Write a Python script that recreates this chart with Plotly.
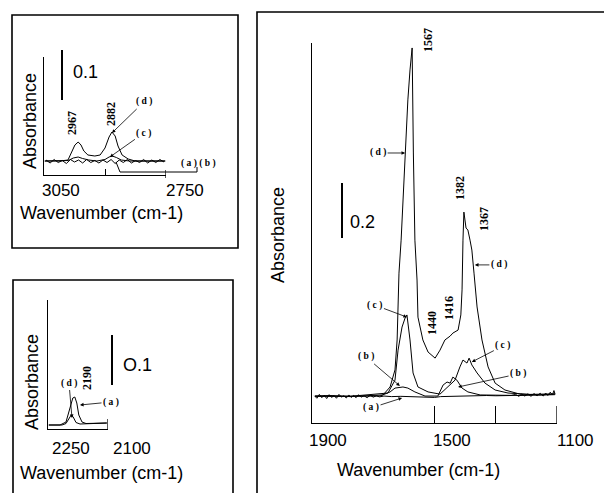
import plotly.graph_objects as go

# page body keeps a default 8px margin, so the figure is sized to fit inside the window
OFF = 8
W, H = 612 - OFF, 493 - OFF

# ---------------- data ----------------
# C-H stretching region (top-left panel), wavenumber cm-1 / absorbance
ch_wn_d = [3048, 3011, 2991, 2981, 2974, 2966, 2959, 2952, 2942, 2925, 2912, 2900, 2890,
           2883, 2875, 2868, 2858, 2843, 2826, 2790, 2752]
ch_abs_d = [0.028, 0.028, 0.030, 0.046, 0.060, 0.066, 0.060, 0.048, 0.040, 0.038, 0.040,
            0.054, 0.076, 0.086, 0.078, 0.058, 0.040, 0.032, 0.028, 0.028, 0.028]
ch_wn_c = [3048, 2990, 2978, 2966, 2955, 2940, 2920, 2900, 2890, 2882, 2872, 2860, 2840, 2752]
ch_abs_c = [0.028, 0.029, 0.034, 0.036, 0.033, 0.030, 0.028, 0.031, 0.036, 0.038, 0.035,
            0.030, 0.028, 0.028]
ch_wn_ab = [3045, 3035, 3025, 3015, 3005, 2995, 2985, 2975, 2965, 2955, 2945, 2935, 2925,
            2915, 2905, 2895, 2885, 2875, 2865, 2855, 2845, 2835, 2825, 2815, 2805, 2795,
            2785, 2775, 2765, 2755]
ch_abs_ab = [0.030, 0.024, 0.031, 0.025, 0.029, 0.023, 0.031, 0.026, 0.030, 0.024, 0.031,
             0.025, 0.029, 0.024, 0.030, 0.025, 0.031, 0.023, 0.030, 0.025, 0.031, 0.024,
             0.029, 0.025, 0.031, 0.024, 0.030, 0.025, 0.031, 0.026]

# C-N region (bottom-left panel)
cn_wn_a = [2248, 2220, 2205, 2195, 2188, 2183, 2178, 2173, 2165, 2155, 2130, 2103]
cn_abs_a = [0.008, 0.008, 0.014, 0.042, 0.062, 0.064, 0.052, 0.028, 0.014, 0.011, 0.011, 0.012]
cn_wn_d = [2248, 2215, 2205, 2198, 2192, 2187, 2180, 2170, 2140, 2103]
cn_abs_d = [0.008, 0.008, 0.011, 0.020, 0.028, 0.024, 0.013, 0.010, 0.011, 0.012]

# 1900-1100 region (right panel)
fp_wn_d = [1890, 1841, 1776, 1711, 1668, 1645, 1629, 1622, 1616, 1609, 1596, 1587, 1580,
           1573, 1569, 1564, 1557, 1554, 1538, 1521, 1498, 1482, 1466, 1449, 1440, 1423,
           1414, 1410, 1407, 1404, 1397, 1391, 1384, 1378, 1371, 1361, 1345, 1325, 1302,
           1270, 1221, 1155, 1107]
fp_abs_d = [0.098, 0.100, 0.096, 0.099, 0.102, 0.131, 0.193, 0.302, 0.545, 0.665, 0.982,
            1.175, 1.284, 1.364, 0.982, 0.665, 0.520, 0.385, 0.302, 0.258, 0.236, 0.265,
            0.302, 0.316, 0.327, 0.338, 0.393, 0.484, 0.665, 0.767, 0.709, 0.702, 0.665,
            0.629, 0.545, 0.422, 0.302, 0.204, 0.145, 0.120, 0.105, 0.102, 0.105]
fp_wn_c = [1890, 1776, 1652, 1629, 1619, 1606, 1596, 1590, 1580, 1570, 1554, 1521, 1482,
           1456, 1433, 1417, 1407, 1394, 1387, 1378, 1361, 1335, 1302, 1260, 1188, 1107]
fp_abs_c = [0.098, 0.097, 0.109, 0.156, 0.265, 0.349, 0.382, 0.393, 0.302, 0.182, 0.131,
            0.113, 0.105, 0.131, 0.156, 0.204, 0.229, 0.218, 0.236, 0.211, 0.182, 0.145,
            0.120, 0.109, 0.104, 0.106]
fp_wn_b = [1890, 1678, 1645, 1629, 1603, 1587, 1564, 1531, 1489, 1472, 1459, 1449, 1440,
           1427, 1410, 1391, 1351, 1221, 1107]
fp_abs_b = [0.097, 0.098, 0.113, 0.127, 0.131, 0.127, 0.113, 0.098, 0.098, 0.138, 0.149,
            0.145, 0.167, 0.156, 0.127, 0.113, 0.102, 0.100, 0.103]
fp_wn_a = [1892, 1884, 1876, 1868, 1860, 1852, 1844, 1836, 1828, 1820, 1812, 1804, 1796,
           1788, 1780, 1772, 1764, 1756, 1748, 1740, 1730, 1720, 1710, 1700, 1690, 1680,
           1665, 1640, 1610, 1580, 1550, 1520, 1500, 1480, 1450, 1420, 1390, 1360, 1330,
           1300, 1270, 1250, 1235, 1225, 1215, 1205, 1195, 1185, 1175, 1165, 1155, 1145,
           1137, 1130, 1122, 1115, 1110, 1106]
fp_abs_a = [0.099, 0.090, 0.104, 0.092, 0.101, 0.089, 0.103, 0.093, 0.100, 0.090, 0.104,
            0.094, 0.099, 0.091, 0.102, 0.093, 0.100, 0.092, 0.103, 0.094, 0.099, 0.092,
            0.101, 0.094, 0.099, 0.095, 0.098, 0.096, 0.097, 0.096, 0.097, 0.094, 0.093,
            0.096, 0.097, 0.098, 0.098, 0.099, 0.100, 0.099, 0.101, 0.100, 0.104, 0.097,
            0.105, 0.098, 0.106, 0.097, 0.107, 0.099, 0.108, 0.098, 0.109, 0.100, 0.112,
            0.102, 0.118, 0.104]

SANS = "Liberation Sans, Arial, sans-serif"
SERIF = "Liberation Serif, Times New Roman, serif"


def px(x):
    return (x - OFF) / W


def py(y):
    return 1 - (y - OFF) / H


fig = go.Figure()
line = dict(color="black", width=1)
for xs, ys, ax in [(ch_wn_ab, ch_abs_ab, 1), (ch_wn_c, ch_abs_c, 1), (ch_wn_d, ch_abs_d, 1),
                   (cn_wn_d, cn_abs_d, 2), (cn_wn_a, cn_abs_a, 2),
                   (fp_wn_a, fp_abs_a, 3), (fp_wn_b, fp_abs_b, 3), (fp_wn_c, fp_abs_c, 3),
                   (fp_wn_d, fp_abs_d, 3)]:
    suf = "" if ax == 1 else str(ax)
    fig.add_trace(go.Scatter(x=xs, y=ys, mode="lines", line=line, xaxis="x" + suf,
                             yaxis="y" + suf, showlegend=False, hoverinfo="skip"))


def xax(dom, rng, tv, tl, anchor):
    return dict(domain=[px(dom[0]), px(dom[1])], range=rng, anchor=anchor, showline=True,
                linecolor="black", linewidth=1.3, ticks="inside", ticklen=tl, tickwidth=1.3,
                tickcolor="black", tickvals=tv, showticklabels=False, showgrid=False,
                zeroline=False, fixedrange=True)


def yax(dom, rng, anchor):
    return dict(domain=[py(dom[0]), py(dom[1])], range=rng, anchor=anchor, showline=True,
                linecolor="black", linewidth=1.3, ticks="", showticklabels=False,
                showgrid=False, zeroline=False, fixedrange=True)


fig.update_layout(
    width=W, height=H, margin=dict(l=0, r=0, t=0, b=0),
    paper_bgcolor="white", plot_bgcolor="rgba(0,0,0,0)",
    xaxis=xax((44, 166), [3050, 2750], [2900], 6, "y"),
    yaxis=yax((175, 57), [0, 0.236], "x"),
    xaxis2=xax((48, 108), [2250, 2100], [], 10, "y2"),
    yaxis2=yax((429, 300), [0, 0.258], "x2"),
    xaxis3=xax((312, 557), [1900, 1100], [1500, 1300], 17, "y3"),
    yaxis3=yax((423, 43), [0, 1.382], "x3"),
)

shapes = []
# panel frames
for (x0, y0, x1, y1) in [(12, 15, 238, 248), (13, 280, 233, 500), (257, 12, 620, 500)]:
    shapes.append(dict(type="rect", xref="paper", yref="paper", x0=px(x0), x1=px(x1),
                       y0=py(y0), y1=py(y1), line=dict(color="black", width=1.6)))
# end-of-axis ticks (at the range limits, which plotly skips)
for (xr, v, y0, y1) in [("x", 2750, 178, 170), ("x2", 2100, 429, 419), ("x3", 1100, 423, 406)]:
    shapes.append(dict(type="line", xref=xr, yref="paper", x0=v, x1=v, y0=py(y0), y1=py(y1),
                       line=dict(color="black", width=1.3)))
# scale bars
for (x, y0, y1) in [(62, 50, 100), (112, 335, 385), (342, 183, 238)]:
    shapes.append(dict(type="line", xref="paper", yref="paper", x0=px(x), x1=px(x),
                       y0=py(y0), y1=py(y1), line=dict(color="black", width=2)))
# leader for (a)(b) in top-left panel
shapes.append(dict(type="path", xref="paper", yref="paper",
                   path=f"M {px(116)},{py(162)} L {px(120)},{py(172)} L {px(197)},{py(172)} L {px(197)},{py(167)}",
                   line=dict(color="black", width=1)))
fig.update_layout(shapes=shapes)

ann = []


def txt(x, y, s, size, font=SANS, angle=0, bold=False):
    ann.append(dict(xref="paper", yref="paper", x=px(x), y=py(y), text=s, showarrow=False,
                    xanchor="center", yanchor="middle", textangle=angle,
                    font=dict(family=font, size=size, color="black",
                              weight="bold" if bold else "normal")))


# axis titles and tick labels
for (x, y) in [(30, 121), (32, 382), (278, 235)]:
    txt(x, y, "Absorbance", 18, angle=-90)
for (x, y) in [(101, 213), (101, 473), (418, 470)]:
    txt(x, y, "Wavenumber (cm-1)", 18)
for (x, y, s) in [(61, 190, "3050"), (185, 190, "2750"), (71, 448, "2250"), (132, 448, "2100"),
                  (328, 440, "1900"), (452, 440, "1500"), (575, 440, "1100")]:
    txt(x, y, s, 17)
# scale labels
txt(85, 72, "0.1", 18)
txt(137, 365, "O.1", 18)
txt(362, 222, "0.2", 18)
# peak labels
for (x, y, s) in [(72, 123, "2967"), (111, 114, "2882"), (87, 378, "2190"),
                  (428, 40, "1567"), (460, 188, "1382"), (484, 219, "1367"),
                  (432, 323, "1440"), (449, 308, "1416")]:
    txt(x, y, s, 12, font=SERIF, angle=-90, bold=True)
txt(198, 163, "( a ) ( b )", 9.5, font=SERIF, bold=True)


def arr(xr, yr, x, y, axp, ayp, s):
    ann.append(dict(xref=xr, yref=yr, x=x, y=y, ax=axp, ay=ayp, text=s, showarrow=True,
                    arrowhead=2, arrowsize=0.9, arrowwidth=0.8, arrowcolor="black",
                    standoff=0, font=dict(family=SERIF, size=9.5, color="black",
                                          weight="bold")))


# top-left
arr("x", "y", 2883, 0.084, 32, -31, "( d )")
arr("x", "y", 2888, 0.036, 34, -24, "( c )")
# bottom-left
arr("x2", "y2", 2190, 0.022, -3, -35, "( d )")
arr("x2", "y2", 2170, 0.048, 31, -3, "( a )")
# right
arr("x3", "y3", 1596, 0.982, -27, 0, "( d )")
arr("x3", "y3", 1368, 0.575, 24, 0, "( d )")
arr("x3", "y3", 1590, 0.385, -32, -12, "( c )")
arr("x3", "y3", 1613, 0.135, -34, -29, "( b )")
arr("x3", "y3", 1606, 0.091, -31, 10, "( a )")
arr("x3", "y3", 1378, 0.222, 31, -16, "( c )")
arr("x3", "y3", 1423, 0.131, 60, -13, "( b )")
fig.update_layout(annotations=ann)

fig.write_html("out.html")
